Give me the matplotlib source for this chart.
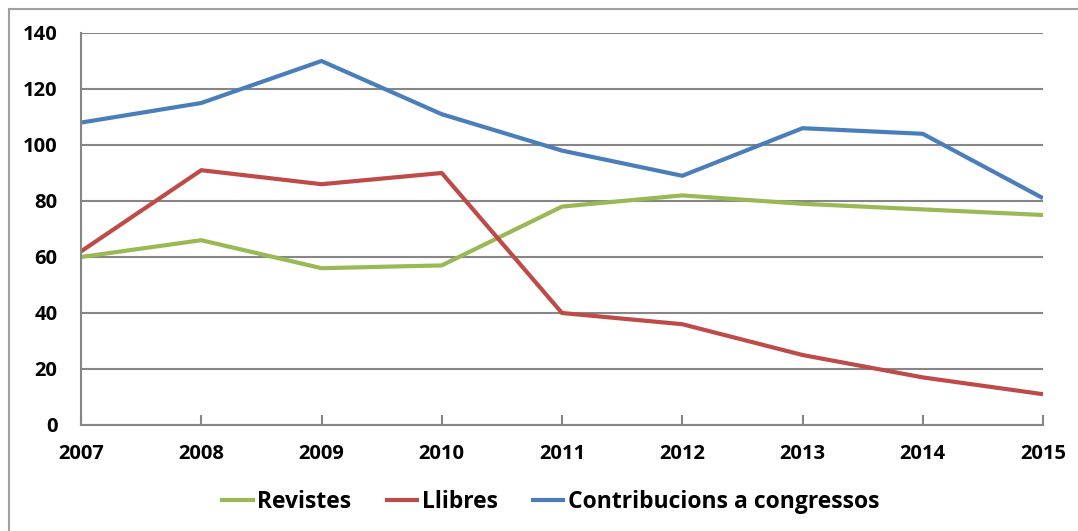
import matplotlib.pyplot as plt
from matplotlib.lines import Line2D

years = [2007, 2008, 2009, 2010, 2011, 2012, 2013, 2014, 2015]
revistes = [60, 66, 56, 57, 78, 82, 79, 77, 75]
llibres = [62, 91, 86, 90, 40, 36, 25, 17, 11]
congressos = [108, 115, 130, 111, 98, 89, 106, 104, 81]
series_names = ['Revistes', 'Llibres', 'Contribucions a congressos']

plt.rcParams['font.family'] = ['Open Sans', 'DejaVu Sans']
plt.rcParams['font.weight'] = 'bold'

fig = plt.figure(figsize=(10.78, 5.31), dpi=100)
ax = fig.add_axes([81/1078, 1-425/531, (1043-81)/1078, (425-33)/531])

grid_col = '#868686'
ax.plot(years, revistes, color='#98B954', lw=3, solid_capstyle='butt', label=series_names[0])
ax.plot(years, llibres, color='#BE4B48', lw=3, solid_capstyle='butt', label=series_names[1])
ax.plot(years, congressos, color='#4A7EBB', lw=3, solid_capstyle='butt', label=series_names[2])

ax.set_xlim(2007, 2015)
ax.set_ylim(0, 140)
ax.set_xticks(years)
ax.set_yticks(range(0, 141, 20))
ax.yaxis.grid(True, color=grid_col, lw=1.5)
ax.set_axisbelow(True)
for s in ['top', 'right']:
    ax.spines[s].set_visible(False)
for s in ['left', 'bottom']:
    ax.spines[s].set_color(grid_col)
    ax.spines[s].set_linewidth(1.5)
ax.tick_params(axis='x', direction='in', length=7, width=1.5, color=grid_col, pad=14, labelsize=14.5)
ax.tick_params(axis='y', length=0, pad=17, labelsize=14.5)
for lab in ax.get_xticklabels() + ax.get_yticklabels():
    lab.set_fontweight('bold')

ax.legend(loc='center', bbox_to_anchor=(550/1078, 1-502/531), bbox_transform=fig.transFigure,
          ncol=3, frameon=False, handlelength=1.5, handletextpad=0.12, columnspacing=1.45,
          prop={'weight': 'bold', 'size': 16.5})

# figure border (left and top edges visible)
fig.add_artist(Line2D([9/1078, 9/1078], [0, 1-9/531], color='#A0A0A0', lw=1.5, transform=fig.transFigure))
fig.add_artist(Line2D([9/1078, 1], [1-9/531, 1-9/531], color='#A0A0A0', lw=1.5, transform=fig.transFigure))

fig.savefig('out.png', dpi=100)
